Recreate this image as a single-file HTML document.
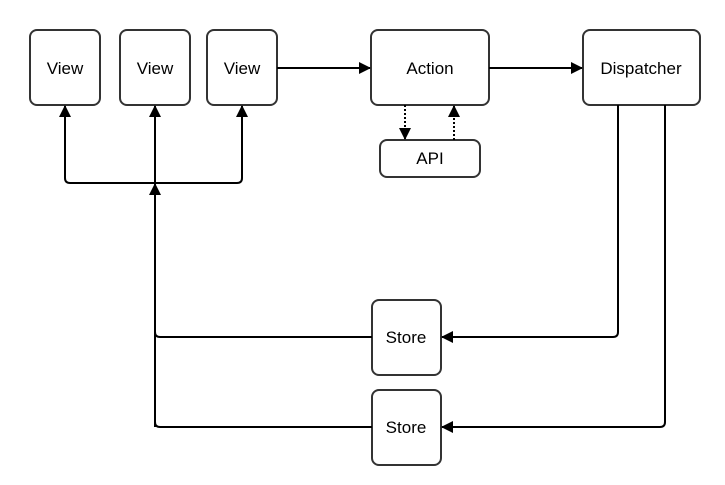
<!DOCTYPE html>
<html><head><meta charset="utf-8"><style>
html,body{margin:0;padding:0;background:#fff;width:725px;height:485px;overflow:hidden}
text{font-family:"Liberation Sans",Arial,sans-serif;font-size:17px;fill:#000}
</style></head><body>
<svg width="725" height="485" viewBox="0 0 725 485" xmlns="http://www.w3.org/2000/svg">
<defs>
<marker id="a" markerWidth="12" markerHeight="12" refX="11" refY="6" orient="auto" markerUnits="userSpaceOnUse">
<path d="M0,0 L12,6 L0,12 Z" fill="#000"/></marker>
</defs>
<g fill="#fff" stroke="#333" stroke-width="2">
<rect x="30" y="30" width="70" height="75" rx="7"/>
<rect x="120" y="30" width="70" height="75" rx="7"/>
<rect x="207" y="30" width="70" height="75" rx="7"/>
<rect x="371" y="30" width="118" height="75" rx="7"/>
<rect x="583" y="30" width="117" height="75" rx="7"/>
<rect x="380" y="140" width="100" height="37" rx="7"/>
<rect x="372" y="300" width="69" height="75" rx="7"/>
<rect x="372" y="390" width="69" height="75" rx="7"/>
</g>
<g fill="none" stroke="#000" stroke-width="2">
<line x1="277" y1="68" x2="370" y2="68" marker-end="url(#a)"/>
<line x1="489" y1="68" x2="582" y2="68" marker-end="url(#a)"/>
<line x1="405" y1="105" x2="405" y2="139" stroke-dasharray="2,2" marker-end="url(#a)"/>
<line x1="454" y1="140" x2="454" y2="106" stroke-dasharray="2,2" marker-end="url(#a)"/>
<path d="M70,183 H237" />
<path d="M70,183 Q65,183 65,178 V106" marker-end="url(#a)"/>
<path d="M237,183 Q242,183 242,178 V106" marker-end="url(#a)"/>
<line x1="155" y1="183" x2="155" y2="106" marker-end="url(#a)"/>
<path d="M155,427 V184" marker-end="url(#a)"/>
<path d="M372,337 H160 Q155,337 155,332"/>
<path d="M372,427 H160 Q155,427 155,422"/>
<path d="M618,105 V332 Q618,337 613,337 H442" marker-end="url(#a)"/>
<path d="M665,105 V422 Q665,427 660,427 H442" marker-end="url(#a)"/>
</g>
<g text-anchor="middle">
<text x="65" y="74">View</text>
<text x="155" y="74">View</text>
<text x="242" y="74">View</text>
<text x="430" y="74">Action</text>
<text x="641" y="74">Dispatcher</text>
<text x="430" y="164">API</text>
<text x="406" y="343">Store</text>
<text x="406" y="433">Store</text>
</g>
</svg>
</body></html>
